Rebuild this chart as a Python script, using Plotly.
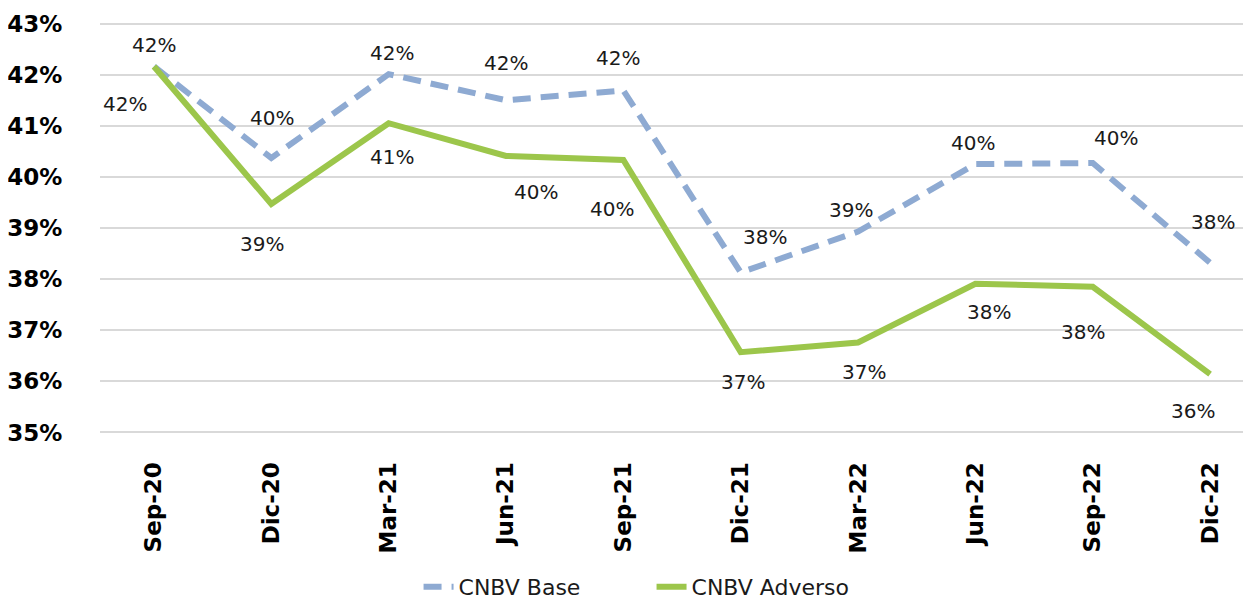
import plotly.graph_objects as go

categories = ["Sep-20", "Dic-20", "Mar-21", "Jun-21", "Sep-21",
              "Dic-21", "Mar-22", "Jun-22", "Sep-22", "Dic-22"]
base_values = [42.16, 40.37, 42.01, 41.50, 41.69, 38.13, 38.93, 40.25, 40.27, 38.32]
adverso_values = [42.16, 39.47, 41.05, 40.41, 40.33, 36.57, 36.76, 37.91, 37.85, 36.14]
y_ticks = [35, 36, 37, 38, 39, 40, 41, 42, 43]

# label pixel offsets (style)
base_offsets = [(0, 21), (1, 40), (3, 21), (0, 37), (-5, 33), (24, 35), (-7, 22), (-2, 21), (23, 25), (3, 41)]
adv_offsets = [(-29, -38), (-9, -40), (3, -34), (30, -36), (-11, -49), (2, -30), (6, -29), (14, -28), (-10, -45), (-17, -37)]

BLUE = "#8EAAD2"
GREEN = "#9CC64B"
FONT = "DejaVu Sans"

fig = go.Figure()
fig.add_trace(go.Scatter(x=categories, y=base_values, mode="lines", name="CNBV Base",
                         line=dict(color=BLUE, width=6, dash="18px,10px")))
fig.add_trace(go.Scatter(x=categories, y=adverso_values, mode="lines", name="CNBV Adverso",
                         line=dict(color=GREEN, width=6)))

for vals, offs in ((base_values, base_offsets), (adverso_values, adv_offsets)):
    for c, v, (dx, dy) in zip(categories, vals, offs):
        fig.add_annotation(x=c, y=v, text=f"{round(v):.0f}%", showarrow=False,
                           xshift=dx, yshift=dy,
                           font=dict(family=FONT, size=20, color="#1a1a1a"))

fig.update_layout(
    width=1243, height=594,
    margin=dict(l=92, r=1, t=14, b=168, autoexpand=False),
    plot_bgcolor="white", paper_bgcolor="white",
    showlegend=True,
    legend=dict(orientation="h", x=0.277, xanchor="left", y=-0.371, yanchor="middle",
                font=dict(family=FONT, size=22, color="#1a1a1a"),
                entrywidth=188, entrywidthmode="pixels"),
)
fig.update_xaxes(range=[-0.46, 9.34], tickangle=-90, showgrid=False, zeroline=False,
                 showline=False, ticks="outside", ticklen=18, tickcolor="rgba(0,0,0,0)",
                 automargin=False,
                 tickfont=dict(family=FONT, size=23, color="black", weight="bold"))
fig.update_yaxes(range=[34.97, 43.03], tickvals=y_ticks, ticktext=[f"{t}%" for t in y_ticks],
                 showgrid=True, gridcolor="#D9D9D9", gridwidth=2, zeroline=False,
                 showline=False, ticks="outside", ticklen=32, tickcolor="rgba(0,0,0,0)",
                 automargin=False,
                 tickfont=dict(family=FONT, size=23, color="black", weight="bold"))

fig.write_html("out.html")
